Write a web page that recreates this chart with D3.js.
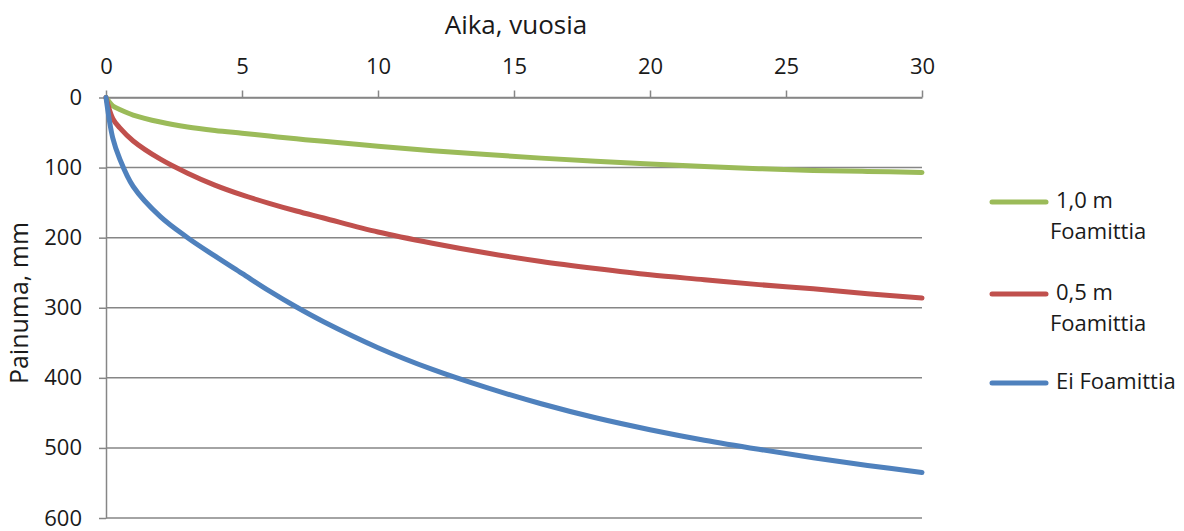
<!DOCTYPE html>
<html>
<head>
<meta charset="utf-8">
<script src="https://cdn.jsdelivr.net/npm/d3@7"></script>
<style>
  body { margin: 0; background: #fff; }
  svg { display: block; font-family: 'Open Sans', sans-serif; }
</style>
</head>
<body>
<svg id="chart" width="1184" height="531"></svg>
<script>
// values (years, settlement in mm)
const years = [0, 0.25, 0.5, 1, 2, 3, 4, 5, 6, 7, 8, 10, 12, 14, 16, 18, 20, 22, 24, 26, 28, 30]
const foam10 = [0, 12, 17, 25, 35, 42, 47, 51, 55, 59, 62.5, 69.5, 76, 81.5, 86.5, 91, 95, 98.5, 101.5, 104, 105.5, 107]
const foam05 = [0, 30, 43, 62, 88, 108, 125, 139, 151, 162, 172, 192, 208, 222, 234, 244, 253, 260, 267, 273, 280, 286]
const noFoam = [0, 58, 87, 127, 170, 200, 226, 251, 276, 299, 320, 357, 388, 414, 437, 457, 474, 489, 502, 514, 525, 535]

const seriesNames = [['1,0 m', 'Foamittia'], ['0,5 m', 'Foamittia'], ['Ei Foamittia']]
const seriesColors = ['#9BBB59', '#C0504D', '#4F81BD']
const xTicks = [0, 5, 10, 15, 20, 25, 30]
const yTicks = [0, 100, 200, 300, 400, 500, 600]

const series = [foam10, foam05, noFoam].map((vals, i) => ({
  name: seriesNames[i],
  color: seriesColors[i],
  values: vals.map((v, j) => ({ x: years[j], y: v })),
}))

const margin = { top: 97.5, left: 106, right: 262, bottom: 13 }
const width = 1184
const height = 531

const svg = d3.select('#chart')

const xScale = d3.scaleLinear().domain([0, 30]).range([margin.left, width - margin.right])
const yScale = d3.scaleLinear().domain([0, 600]).range([margin.top, height - margin.bottom])

const gridColor = '#868686'
const textColor = '#1a1a1a'

// horizontal gridlines
svg.append('g')
  .attr('id', 'grid')
  .selectAll('line')
  .data(yTicks)
  .join('line')
  .attr('x1', xScale(0))
  .attr('x2', xScale(30))
  .attr('y1', (d) => yScale(d))
  .attr('y2', (d) => yScale(d))
  .attr('stroke', gridColor)
  .attr('stroke-width', 1.5)

// x axis on top
const xAxis = svg.append('g')
  .attr('id', 'xAxis')
  .attr('transform', `translate(0,${yScale(0)})`)
  .call(d3.axisTop(xScale).tickValues(xTicks).tickSize(7).tickSizeOuter(0).tickPadding(17))

// y axis
const yAxis = svg.append('g')
  .attr('id', 'yAxis')
  .attr('transform', `translate(${xScale(0)},0)`)
  .call(d3.axisLeft(yScale).tickValues(yTicks).tickSize(7).tickSizeOuter(0).tickPadding(17))

;[xAxis, yAxis].forEach((ax) => {
  ax.select('.domain').attr('stroke', gridColor).attr('stroke-width', 1.5)
  ax.selectAll('.tick line').attr('stroke', gridColor).attr('stroke-width', 1.5)
  ax.selectAll('.tick text')
    .attr('fill', textColor)
    .attr('font-size', 22)
    .attr('font-family', "'Open Sans', sans-serif")
})

// lines
const line = d3.line()
  .x((d) => xScale(d.x))
  .y((d) => yScale(d.y))
  .curve(d3.curveCatmullRom.alpha(0.5))

svg.append('g')
  .attr('id', 'lines')
  .selectAll('path')
  .data(series)
  .join('path')
  .attr('d', (d) => line(d.values))
  .attr('fill', 'none')
  .attr('stroke', (d) => d.color)
  .attr('stroke-width', 5)
  .attr('stroke-linecap', 'round')

// axis titles
svg.append('text')
  .attr('x', (xScale(0) + xScale(30)) / 2 + 2)
  .attr('y', 34)
  .attr('text-anchor', 'middle')
  .attr('font-size', 26)
  .attr('fill', textColor)
  .text('Aika, vuosia')

svg.append('text')
  .attr('transform', `translate(28,303) rotate(-90)`)
  .attr('text-anchor', 'middle')
  .attr('font-size', 25)
  .attr('fill', textColor)
  .text('Painuma, mm')

// legend
const legendY = [202, 294, 383]
const legend = svg.append('g')
  .attr('id', 'legend')
  .selectAll('g')
  .data(series)
  .join('g')
  .attr('transform', (d, i) => `translate(992,${legendY[i]})`)

legend.append('line')
  .attr('x1', 0)
  .attr('x2', 54)
  .attr('stroke', (d) => d.color)
  .attr('stroke-width', 5)
  .attr('stroke-linecap', 'round')

legend.each(function (d) {
  const g = d3.select(this)
  d.name.forEach((t, k) => {
    g.append('text')
      .attr('x', k === 0 ? 64 : 58)
      .attr('y', k * 31)
      .attr('dominant-baseline', 'middle')
      .attr('font-size', 22)
      .attr('fill', textColor)
      .text(t)
  })
})
</script>
</body>
</html>
